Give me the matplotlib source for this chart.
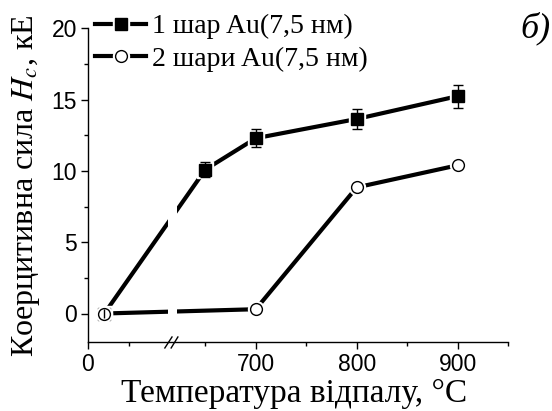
import numpy as np
import matplotlib
matplotlib.use("Agg")
import matplotlib.pyplot as plt
from matplotlib.patches import Rectangle
from matplotlib.lines import Line2D
from matplotlib.ticker import FixedLocator

# ---- data ----
temp1 = [20, 650, 700, 800, 900]
hc1 = [0.0, 10.1, 12.3, 13.65, 15.25]
err1 = [0.3, 0.5, 0.65, 0.7, 0.8]
temp2 = [20, 700, 800, 900]
hc2 = [0.0, 0.3, 8.85, 10.4]
label1 = "1 шар Au(7,5 нм)"
label2 = "2 шари Au(7,5 нм)"
xticks_major = [0, 700, 800, 900]
xticks_minor = [50, 650, 750, 850, 950]

plt.rcParams['mathtext.fontset'] = 'stix'
SERIF = ['Liberation Serif', 'DejaVu Serif']
SANS = ['Liberation Sans', 'DejaVu Sans']

def fwd(x):
    x = np.asarray(x, float)
    return np.where(x <= 100, x * 0.812,
                    np.where(x < 617, 81.2 + (x - 100) * (2.1 / 517), x - 533.7))

def inv(u):
    u = np.asarray(u, float)
    return np.where(u <= 81.2, u / 0.812,
                    np.where(u < 83.3, 100 + (u - 81.2) * (517 / 2.1), u + 533.7))

fig = plt.figure(figsize=(5.52, 4.11), dpi=100)
ax = fig.add_axes([88/552, 1 - 342/411, 420/552, 313.5/411])
ax.set_xscale('function', functions=(fwd, inv))
ax.set_xlim(0, 950)
ax.set_ylim(-2, 20)

lw = 3.0
ms = 8.5
# series 1
l1, = ax.plot(temp1, hc1, color='black', lw=lw, zorder=2)
h1, = ax.plot(temp1, hc1, ls='none', marker='s', ms=ms + 3, mfc='white', mec='white', zorder=3)
ax.errorbar(temp1, hc1, yerr=err1, fmt='none', ecolor='black', elinewidth=1, capsize=3.5, capthick=1, zorder=4)
m1, = ax.plot(temp1, hc1, ls='none', marker='s', ms=ms, mfc='black', mec='black', zorder=5)
# series 2
l2, = ax.plot(temp2, hc2, color='black', lw=lw, zorder=2)
h2, = ax.plot(temp2, hc2, ls='none', marker='o', ms=ms + 3, mfc='white', mec='white', zorder=6)
m2, = ax.plot(temp2, hc2, ls='none', marker='o', ms=ms, mfc='white', mec='black', mew=1, zorder=7)
ax.errorbar(temp1[:1], hc1[:1], yerr=err1[:1], fmt='none', ecolor='black', elinewidth=1, capsize=0, zorder=8)

# axis break gap and marks
ax.add_patch(Rectangle((0.190, 0.02), 0.022, 0.98, transform=ax.transAxes,
                       facecolor='white', edgecolor='none', zorder=4.5))
for x0, x1 in [(0.183, 0.200), (0.198, 0.214)]:
    ax.add_line(Line2D([x0, x1], [-0.019, 0.016], transform=ax.transAxes,
                       color='black', lw=1, clip_on=False, zorder=10))

# spines/ticks
for s in ['top', 'right']:
    ax.spines[s].set_visible(False)
for s in ['left', 'bottom']:
    ax.spines[s].set_linewidth(1)
ax.xaxis.set_major_locator(FixedLocator(xticks_major))
ax.xaxis.set_minor_locator(FixedLocator(xticks_minor))
ax.set_xticklabels([str(v) for v in xticks_major])
ax.set_yticks([0, 5, 10, 15, 20])
ax.yaxis.set_minor_locator(FixedLocator([2.5, 7.5, 12.5, 17.5]))
ax.tick_params(which='major', direction='out', length=5, width=1, labelsize=16.5, pad=3)
ax.tick_params(which='minor', direction='out', length=3, width=1)
for lab in ax.get_xticklabels() + ax.get_yticklabels():
    lab.set_family(SANS)

ax.set_xlabel("Температура відпалу, °C", family=SERIF, fontsize=24)
ax.xaxis.label.set_va('baseline')
ax.xaxis.set_label_coords(0.49, -0.191)
ax.set_ylabel(r"Коерцитивна сила $\mathit{H}_{\mathit{c}}$, кЕ", family=SERIF, fontsize=23)
ax.yaxis.label.set_va('baseline')
ax.yaxis.set_label_coords(-0.131, 0.50)

leg = fig.legend([(l1, h1, m1), (l2, h2, m2)], [label1, label2],
                 loc='upper left', bbox_to_anchor=(95/552, 1 - 14/411),
                 frameon=False, prop={'family': SERIF, 'size': 20},
                 handlelength=1.85, handletextpad=0.2, labelspacing=0.25,
                 borderpad=0, borderaxespad=0)

fig.text(551/552, 1 - 28/411, "б)", ha='right', va='center',
         family=SERIF, fontsize=26, style='italic')

fig.savefig("out.png", dpi=100)
